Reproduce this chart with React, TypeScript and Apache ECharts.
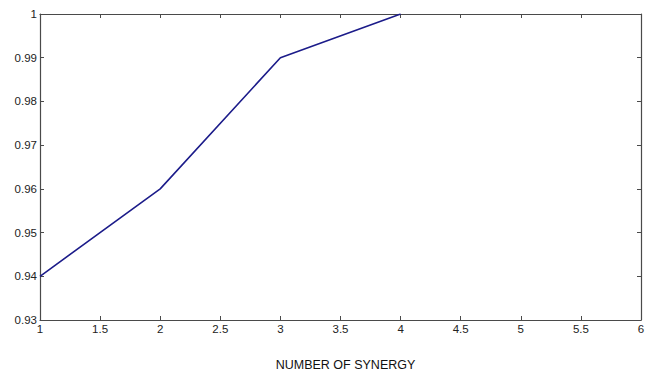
import React, { useEffect, useRef } from "react";
import * as echarts from "echarts";

const xValues = [1, 2, 3, 4];
const yValues = [0.94, 0.96, 0.99, 1.0];
const xTitle = "NUMBER OF SYNERGY";

export default function App() {
  const ref = useRef<HTMLDivElement>(null);
  useEffect(() => {
    document.body.style.margin = "0";
    const chart = echarts.init(ref.current!, null, { renderer: "svg" });
    const axisColor = "#4a4a4a";
    const font = "Liberation Sans, Arial, sans-serif";
    chart.setOption({
      animation: false,
      backgroundColor: "#ffffff",
      grid: { left: 40, right: 9, top: 14, bottom: 63 },
      xAxis: [
        {
          type: "value",
          min: 1,
          max: 6,
          interval: 0.5,
          position: "bottom",
          name: xTitle,
          nameLocation: "middle",
          nameGap: 38,
          nameTextStyle: { color: "#111", fontSize: 12.5, fontFamily: font, padding: [0, 0, 0, 10] },
          axisLine: { lineStyle: { color: axisColor, width: 1.2 } },
          axisTick: { inside: true, length: 4, lineStyle: { color: axisColor } },
          axisLabel: { color: "#222", fontSize: 11.5, fontFamily: font, margin: 3 },
          splitLine: { show: false },
        },
        {
          type: "value",
          min: 1,
          max: 6,
          interval: 0.5,
          position: "top",
          axisLine: { lineStyle: { color: axisColor, width: 1.2 } },
          axisTick: { inside: true, length: 4, lineStyle: { color: axisColor } },
          axisLabel: { show: false },
          splitLine: { show: false },
        },
      ],
      yAxis: [
        {
          type: "value",
          min: 0.93,
          max: 1,
          interval: 0.01,
          position: "left",
          axisLine: { show: true, lineStyle: { color: axisColor, width: 1.2 } },
          axisTick: { show: true, inside: true, length: 4, lineStyle: { color: axisColor } },
          axisLabel: {
            color: "#222",
            fontSize: 11.5,
            fontFamily: font,
            margin: 3,
            formatter: (v: number) => String(parseFloat(v.toFixed(2))),
          },
          splitLine: { show: false },
        },
        {
          type: "value",
          min: 0.93,
          max: 1,
          interval: 0.01,
          position: "right",
          axisLine: { show: true, lineStyle: { color: axisColor, width: 1.2 } },
          axisTick: { show: true, inside: true, length: 4, lineStyle: { color: axisColor } },
          axisLabel: { show: false },
          splitLine: { show: false },
        },
      ],
      series: [
        {
          type: "line",
          data: xValues.map((x, i) => [x, yValues[i]]),
          showSymbol: false,
          lineStyle: { color: "#1c1c8a", width: 1.6 },
          xAxisIndex: 0,
          yAxisIndex: 0,
        },
      ],
    });
    return () => chart.dispose();
  }, []);
  return <div ref={ref} style={{ width: 650, height: 383 }} />;
}
